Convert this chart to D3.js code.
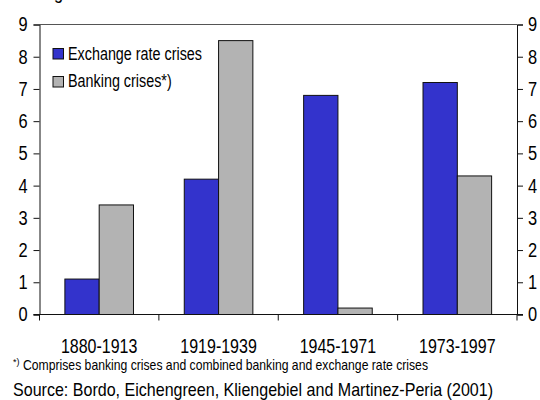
<!DOCTYPE html>
<html>
<head>
<meta charset="utf-8">
<script src="https://cdn.jsdelivr.net/npm/d3@7"></script>
<style>
  body { margin: 0; background: #fff; }
  svg text { font-family: "Liberation Sans", Arial, sans-serif; fill: #000; }
</style>
</head>
<body>
<div id="chart"></div>
<script>
// data
const periods = ["1880-1913", "1919-1939", "1945-1971", "1973-1997"];
const seriesNames = ["Exchange rate crises", "Banking crises*)"];
const exchangeRate = [1.1, 4.2, 6.8, 7.2];
const banking = [3.4, 8.5, 0.2, 4.3];
const yTicks = [0, 1, 2, 3, 4, 5, 6, 7, 8, 9];
const colors = ["#3333cc", "#b3b3b3"];

const width = 540, height = 400;
const margin = { top: 24.5, right: 23, bottom: 85.5, left: 39.5 };
const narrow = 0.82; // no Arial Narrow installed, so squeeze Liberation Sans

// squeeze a text horizontally to fake a narrow face
function squeeze(sel, ratio, fixed) {
  sel.each(function () {
    const w = fixed || this.getComputedTextLength() * ratio;
    d3.select(this).attr("textLength", w).attr("lengthAdjust", "spacingAndGlyphs");
  });
}

const svg = d3.select("#chart").append("svg")
  .attr("width", width)
  .attr("height", height);

const x0 = d3.scaleBand()
  .domain(periods)
  .range([margin.left, width - margin.right])
  .paddingInner(0)
  .paddingOuter(0);

const x1 = d3.scaleBand()
  .domain(seriesNames)
  .range([0, x0.bandwidth()])
  .paddingInner(0)
  .paddingOuter(0.74);

const y = d3.scaleLinear()
  .domain([0, 9])
  .range([height - margin.bottom, margin.top]);

// cut-off title at the very top (only its descenders show in the original)
svg.append("text")
  .attr("x", 13)
  .attr("y", -1)
  .style("font-size", "20px")
  .text("average")
  .call(squeeze, narrow);

// top frame line
svg.append("line")
  .attr("x1", margin.left).attr("x2", width - margin.right)
  .attr("y1", y(9)).attr("y2", y(9))
  .attr("stroke", "#555").attr("stroke-width", 1);

// bars
const rows = periods.map((p, i) => ({ period: p, values: [exchangeRate[i], banking[i]] }));
const groups = svg.append("g").selectAll("g")
  .data(rows)
  .join("g")
  .attr("transform", d => `translate(${x0(d.period)},0)`);

groups.selectAll("rect")
  .data(d => d.values.map((v, j) => ({ key: seriesNames[j], value: v, j })))
  .join("rect")
  .attr("x", d => x1(d.key))
  .attr("y", d => y(d.value))
  .attr("width", x1.bandwidth())
  .attr("height", d => y(0) - y(d.value))
  .attr("fill", d => colors[d.j])
  .attr("stroke", "#111")
  .attr("stroke-width", 1);

// axes
const leftAxis = d3.axisLeft(y).tickValues(yTicks).tickSize(6).tickPadding(6).tickFormat(d3.format("d"));
const rightAxis = d3.axisRight(y).tickValues(yTicks).tickSize(6).tickPadding(5).tickFormat(d3.format("d"));

const gl = svg.append("g")
  .attr("transform", `translate(${margin.left},0)`)
  .call(leftAxis);
const gr = svg.append("g")
  .attr("transform", `translate(${width - margin.right},0)`)
  .call(rightAxis);

[gl, gr].forEach(g => {
  g.select(".domain").attr("stroke", "#111");
  g.selectAll(".tick line").attr("stroke", "#111");
  g.selectAll(".tick text")
    .attr("font-family", null).attr("font-size", null)
    .style("font-size", "20px")
    .call(squeeze, narrow);
});

// x axis with ticks at the category boundaries
const bottom = svg.append("g");
bottom.append("line")
  .attr("x1", margin.left - 6).attr("x2", width - margin.right + 6)
  .attr("y1", y(0)).attr("y2", y(0))
  .attr("stroke", "#111");
const edges = periods.map(p => x0(p)).concat([x0(periods[periods.length - 1]) + x0.bandwidth()]);
bottom.selectAll("line.tk")
  .data(edges)
  .join("line")
  .attr("class", "tk")
  .attr("x1", d => d).attr("x2", d => d)
  .attr("y1", y(0)).attr("y2", y(0) + 6)
  .attr("stroke", "#111");
bottom.selectAll("text")
  .data(periods)
  .join("text")
  .attr("x", d => x0(d) + x0.bandwidth() / 2)
  .attr("y", 353)
  .attr("text-anchor", "middle")
  .style("font-size", "19.5px")
  .text(d => d)
  .call(squeeze, narrow);

// legend
const legend = svg.append("g");
seriesNames.forEach((name, i) => {
  legend.append("rect")
    .attr("x", 53).attr("y", 48.5 + i * 28)
    .attr("width", 10.5).attr("height", 10.5)
    .attr("fill", colors[i])
    .attr("stroke", "#111");
  legend.append("text")
    .attr("x", 68).attr("y", 59.5 + i * 27.5)
    .style("font-size", "17.5px")
    .text(name)
    .call(squeeze, narrow);
});

// footnote and source
const foot = svg.append("text")
  .attr("x", 13).attr("y", 370)
  .style("font-size", "14.5px");
foot.append("tspan")
  .attr("dy", -5)
  .style("font-size", "9px")
  .text("*)");
foot.append("tspan")
  .attr("x", 23).attr("dy", 5)
  .text("Comprises banking crises and combined banking and exchange rate crises")
  .call(squeeze, narrow, 405);

svg.append("text")
  .attr("x", 13).attr("y", 395.5)
  .style("font-size", "19px")
  .text("Source: Bordo, Eichengreen, Kliengebiel and Martinez-Peria (2001)")
  .call(squeeze, narrow, 480);
</script>
</body>
</html>
